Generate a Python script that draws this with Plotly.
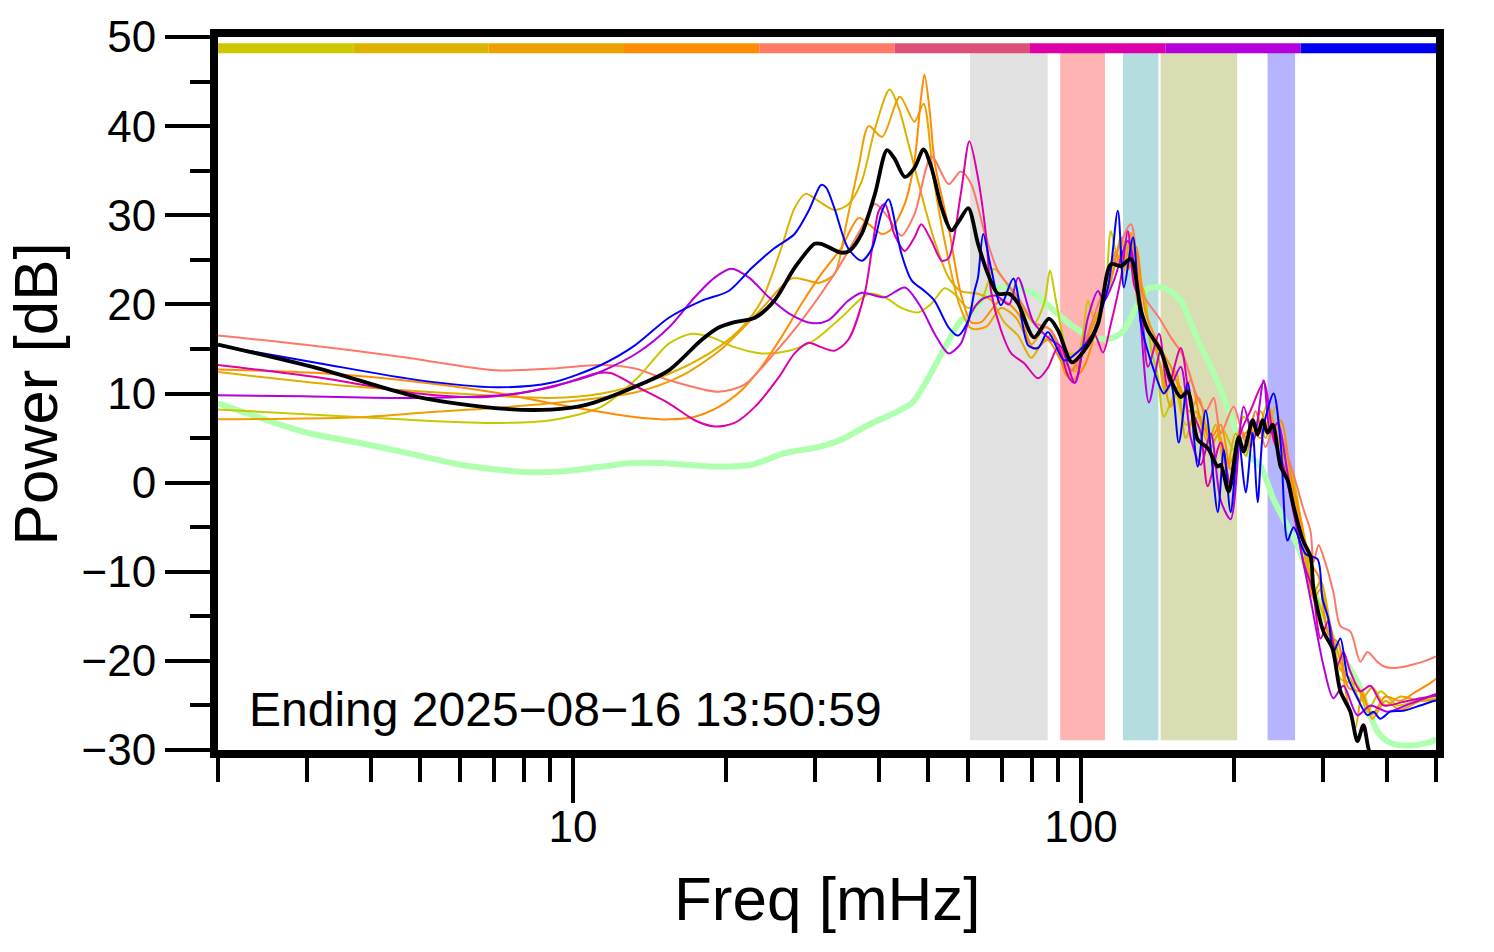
import numpy as np
import plotly.graph_objects as go

# ---------------- data ----------------
freq_yellow = [2.0, 3.67, 6.71, 9.05, 11.35, 13.42, 15.44, 17.13, 18.76, 20.8, 23.5, 26.6, 29.9, 33.7, 38.2, 41.1, 44.3, 47.8, 50.8, 53.9, 56.3, 60.0, 63.6, 67.4, 70.6, 75.2, 80.8, 84.6, 86.9, 89.3, 94.6, 99.1, 103.2, 106.1, 111.0, 114.5, 118.2, 121.5, 127.1, 133.0, 137.4, 141.7, 145.6, 153.7, 160.8, 172.1, 182.5, 190.1, 199.8, 209.1, 222.7, 233.0, 243.8, 258.6, 270.6, 283.2, 296.3, 309.8, 324.1, 350.2, 366.4, 388.5, 419.5, 451.0, 500]
pow_yellow = [8.2, 7.4, 6.7, 7.0, 8.5, 11.8, 15.6, 16.7, 16.3, 15.2, 14.5, 14.8, 16.0, 18.5, 21.2, 20.8, 19.6, 19.1, 20.1, 21.8, 21.2, 19.6, 20.4, 24.0, 22.7, 20.4, 17.9, 20.1, 23.8, 20.4, 14.5, 14.8, 20.4, 18.5, 20.4, 28.2, 25.2, 27.1, 23.4, 21.5, 15.0, 12.0, 7.4, 10.0, 6.5, 7.4, 4.8, 6.0, 3.7, 7.4, 5.9, 8.9, 4.8, 1.8, -4.0, -11.0, -14.0, -17.5, -22.0, -22.8, -25.7, -23.4, -25.0, -24.6, -23.9]

freq_gold = [2.0, 3.67, 6.71, 9.05, 11.4, 14.3, 16.6, 19.35, 21.5, 23.5, 25.7, 27.3, 28.7, 30.4, 32.7, 34.8, 37.0, 39.3, 42.0, 43.8, 45.8, 48.5, 51.5, 54.9, 58.0, 62.7, 66.5, 70.6, 75.2, 79.8, 83.4, 87.3, 91.5, 97.3, 102.3, 108.0, 114.5, 119.9, 123.7, 128.3, 133.0, 140.4, 146.9, 153.7, 160.8, 168.3, 177.6, 184.2, 192.7, 201.6, 211.0, 220.7, 230.9, 241.6, 252.8, 264.6, 276.8, 287.0, 296.3, 309.8, 324.1, 339.1, 354.9, 374.7, 397.4, 425.2, 465.4, 500]
pow_gold = [12.4, 10.8, 9.8, 9.5, 10.0, 11.5, 13.0, 15.2, 17.4, 20.4, 26.3, 30.8, 32.4, 31.6, 30.6, 31.2, 33.8, 39.7, 44.1, 42.0, 37.9, 32.4, 27.1, 23.0, 21.5, 21.2, 20.5, 18.0, 16.5, 14.0, 15.5, 16.5, 14.0, 12.5, 16.0, 19.0, 22.5, 27.5, 24.0, 26.0, 18.0, 15.5, 10.0, 12.5, 5.0, 8.0, 4.5, 6.5, 1.0, 5.5, 3.0, 8.0, 5.0, 8.5, 2.0, -3.5, -7.0, -12.5, -11.0, -16.0, -21.0, -22.0, -24.5, -23.0, -25.0, -24.0, -24.5, -24.2]

freq_orange = [2.0, 3.67, 4.96, 9.05, 13.42, 16.37, 19.6, 23.5, 26.9, 28.85, 30.4, 32.7, 34.5, 36.5, 38.2, 40.6, 44.0, 47.0, 49.0, 51.3, 54.4, 57.6, 60.8, 65.1, 69.6, 74.5, 79.8, 85.3, 89.3, 93.7, 99.1, 104.6, 112.0, 117.2, 121.0, 125.4, 129.5, 137.4, 143.6, 150.3, 155.8, 163.0, 170.6, 180.1, 186.7, 195.3, 204.4, 215.8, 225.8, 236.2, 247.2, 258.6, 270.6, 280.6, 287.0, 296.3, 309.8, 324.1, 336.1, 346.9, 358.2, 374.7, 397.4, 425.2, 465.4, 500]
pow_orange = [7.1, 7.3, 7.8, 8.9, 10.2, 12.0, 15.0, 19.5, 22.9, 22.7, 22.4, 23.4, 29.0, 35.5, 40.0, 38.8, 43.3, 40.5, 42.5, 34.0, 26.0, 20.0, 17.3, 17.5, 19.6, 18.5, 15.5, 17.5, 16.0, 12.0, 14.0, 17.0, 21.0, 26.0, 23.5, 28.0, 20.0, 16.5, 13.0, 8.5, 11.0, 8.0, 9.5, 4.0, 5.5, 2.0, 4.5, 6.0, 5.0, 7.5, 4.0, 0.0, -5.0, -11.0, -13.0, -12.0, -16.5, -20.0, -25.0, -27.5, -23.5, -26.5, -24.5, -25.5, -24.5, -24.5]

freq_darkorange = [2.0, 3.16, 4.96, 7.22, 9.05, 13.42, 15.44, 17.36, 19.35, 21.5, 23.5, 25.7, 28.2, 30.8, 33.7, 36.5, 38.2, 40.6, 42.4, 45.0, 47.0, 48.5, 49.2, 50.4, 51.5, 54.9, 58.0, 60.8, 63.6, 69.6, 75.2, 80.8, 86.1, 90.6, 96.0, 101.4, 108.0, 114.5, 119.9, 124.3, 128.3, 134.2, 143.6, 150.3, 158.7, 164.5, 172.1, 180.1, 188.4, 197.1, 206.2, 215.8, 225.8, 236.2, 247.2, 258.6, 270.6, 283.2, 293.6, 307.0, 321.2, 336.1, 354.9, 374.7, 397.4, 425.2, 455.1, 487.0, 500]
pow_darkorange = [12.7, 12.3, 11.3, 10.0, 8.9, 7.3, 7.1, 7.4, 8.5, 10.4, 13.0, 16.3, 20.1, 23.4, 26.3, 29.7, 29.0, 27.9, 28.5, 31.3, 36.0, 43.5, 45.8, 41.6, 36.0, 28.6, 21.2, 18.0, 18.0, 20.5, 19.0, 15.0, 16.0, 14.0, 11.5, 13.0, 18.0, 23.0, 25.5, 24.0, 26.5, 19.0, 15.0, 13.0, 10.0, 11.5, 7.0, 5.0, 6.5, 1.5, 6.0, 4.0, 8.0, 5.5, 7.0, 1.0, -4.0, -9.0, -10.5, -17.0, -18.0, -23.0, -23.5, -26.0, -24.0, -24.5, -23.5, -22.5, -22.0]

freq_salmon = [2.0, 2.94, 4.61, 7.03, 9.09, 11.35, 13.24, 15.44, 19.35, 21.76, 24.9, 28.2, 32.7, 37.0, 39.3, 41.8, 44.3, 47.0, 50.8, 54.9, 58.0, 60.8, 64.5, 68.6, 75.2, 80.8, 87.3, 96.0, 101.4, 113.0, 125.4, 131.2, 142.5, 150.3, 159.4, 168.3, 176.0, 182.5, 188.4, 199.8, 211.0, 220.7, 230.9, 241.6, 258.6, 274.3, 283.2, 287.0, 293.6, 300.1, 314.0, 324.1, 339.1, 354.9, 366.4, 383.3, 393.9, 415.7, 444.9, 476.1, 500]
pow_salmon = [16.5, 15.5, 14.1, 12.6, 12.8, 13.2, 12.8, 11.5, 10.2, 11.0, 14.5, 18.2, 23.4, 28.6, 31.3, 29.7, 27.7, 30.1, 36.6, 33.5, 34.9, 33.5, 28.2, 23.8, 20.8, 18.0, 17.1, 12.6, 15.6, 23.0, 29.0, 21.5, 18.5, 16.3, 14.1, 10.0, 8.0, 9.5, 5.5, 8.5, 4.5, 8.0, 4.0, 6.5, 2.0, -3.0, -5.5, -8.9, -7.0, -8.3, -12.3, -16.1, -16.7, -20.1, -19.0, -20.1, -20.6, -20.8, -20.5, -20.0, -19.5]

freq_magenta = [2.0, 3.16, 4.96, 6.71, 9.05, 11.2, 11.87, 13.42, 15.44, 17.36, 19.0, 20.8, 22.8, 25.4, 27.3, 29.1, 30.8, 32.7, 34.8, 37.5, 38.8, 40.0, 41.1, 42.9, 45.0, 47.0, 48.5, 50.8, 53.2, 54.9, 58.0, 60.3, 62.7, 65.1, 66.5, 69.6, 72.9, 77.3, 82.3, 86.1, 90.1, 94.6, 97.3, 101.4, 106.1, 110.5, 114.5, 119.9, 123.7, 127.1, 131.2, 135.5, 142.5, 148.2, 157.2, 164.5, 172.1, 177.6, 188.4, 197.1, 206.2, 215.8, 228.9, 239.5, 250.6, 267.0, 274.3, 285.7, 296.3, 307.0, 319.8, 328.6, 339.1, 354.9, 371.4, 393.9, 431.0, 465.4, 500]
pow_magenta = [13.2, 11.8, 10.0, 9.6, 10.7, 12.3, 12.3, 10.7, 8.9, 7.0, 6.3, 6.7, 8.5, 11.8, 14.5, 15.7, 15.2, 14.8, 16.0, 21.2, 26.3, 30.5, 31.3, 27.9, 26.0, 27.5, 29.0, 27.1, 24.9, 25.2, 32.4, 38.3, 34.2, 27.5, 21.5, 17.1, 14.5, 13.4, 11.7, 12.9, 15.2, 11.8, 11.2, 15.2, 16.7, 14.6, 17.8, 23.0, 28.2, 22.3, 20.0, 13.0, 16.7, 10.7, 15.1, 8.5, 5.6, -0.4, 4.5, -0.4, 5.6, 8.1, 11.2, 4.8, 1.8, -5.6, -9.0, -12.0, -17.5, -15.5, -20.5, -19.0, -21.2, -23.4, -22.8, -25.0, -24.6, -24.2, -23.9]

freq_purple = [2.0, 2.94, 4.96, 7.79, 10.56, 11.4, 13.42, 15.44, 17.36, 19.0, 20.5, 22.2, 24.3, 26.6, 29.5, 31.8, 34.8, 37.0, 41.1, 45.0, 48.5, 51.5, 54.9, 58.0, 60.8, 63.6, 68.0, 72.2, 75.2, 80.8, 87.3, 91.5, 97.3, 103.2, 108.0, 111.0, 116.1, 123.7, 129.4, 136.1, 143.6, 150.3, 157.2, 164.5, 172.1, 180.1, 188.4, 197.1, 209.1, 218.8, 228.9, 236.2, 243.8, 255.1, 267.0, 283.2, 300.1, 314.0, 328.6, 350.2, 371.4, 401.0, 444.9, 500]
pow_purple = [9.8, 9.7, 9.5, 10.0, 11.8, 12.5, 14.6, 17.4, 20.8, 23.0, 24.0, 23.0, 20.8, 19.0, 17.9, 18.2, 20.4, 21.3, 20.8, 21.9, 19.6, 16.7, 14.5, 15.6, 19.0, 20.5, 21.0, 20.0, 23.0, 17.9, 16.0, 15.2, 11.2, 18.5, 21.5, 20.4, 22.7, 27.1, 21.5, 9.0, 14.8, 11.0, 13.0, 5.0, 2.0, 5.5, -2.0, -4.1, 8.5, 4.8, 11.5, 5.6, 6.7, 1.1, -5.6, -13.1, -20.5, -24.2, -22.8, -26.1, -25.0, -25.7, -24.8, -23.7]

freq_blue = [2.0, 3.16, 4.96, 7.03, 9.05, 11.35, 13.24, 15.44, 17.9, 20.25, 22.5, 24.9, 27.3, 29.1, 30.8, 31.5, 32.7, 34.8, 37.0, 38.8, 40.6, 41.8, 44.3, 46.4, 49.2, 51.5, 54.9, 57.3, 60.0, 61.7, 62.7, 64.2, 66.5, 69.6, 73.6, 78.7, 82.3, 86.1, 92.8, 99.1, 104.6, 113.0, 118.2, 121.5, 126.6, 131.2, 139.2, 145.6, 150.3, 155.8, 162.3, 169.8, 176.0, 185.9, 191.0, 197.1, 204.4, 211.0, 217.8, 222.7, 228.9, 239.5, 247.2, 255.1, 262.2, 276.8, 292.3, 298.8, 307.0, 314.0, 324.1, 334.6, 350.2, 366.4, 376.5, 388.5, 406.4, 431.0, 465.4, 500]
pow_blue = [15.4, 13.4, 11.5, 10.7, 11.2, 13.2, 15.4, 18.5, 20.4, 21.5, 24.1, 26.3, 27.9, 30.5, 33.4, 33.1, 30.8, 26.3, 24.9, 26.3, 30.5, 31.8, 25.7, 22.7, 21.5, 20.4, 17.4, 16.5, 18.2, 21.5, 23.0, 27.9, 24.1, 19.9, 22.9, 15.4, 15.1, 16.9, 13.7, 14.8, 16.3, 21.9, 30.5, 21.9, 27.5, 17.9, 12.6, 10.0, 11.0, 4.5, 11.2, 1.8, 8.1, -3.3, 3.7, -3.3, 4.8, -1.1, 5.6, -2.2, 6.3, 10.0, 4.5, -6.5, -5.0, -8.0, -8.6, -13.0, -15.3, -19.0, -17.5, -21.7, -24.2, -26.1, -25.7, -26.5, -25.7, -25.6, -25.0, -24.4]

freq_mean = [2.0, 3.16, 4.96, 7.22, 9.05, 10.56, 13.42, 15.44, 17.9, 19.35, 20.8, 22.8, 24.9, 27.3, 29.9, 30.8, 33.7, 35.0, 37.0, 39.3, 41.5, 42.9, 45.0, 47.0, 49.0, 50.8, 53.2, 55.6, 57.6, 60.0, 62.7, 65.6, 68.6, 72.2, 75.2, 80.8, 86.5, 90.1, 96.0, 101.4, 108.0, 114.5, 119.9, 125.4, 131.2, 135.5, 143.6, 150.3, 157.2, 162.3, 169.8, 177.6, 185.9, 188.4, 195.3, 204.4, 209.1, 217.8, 222.7, 227.8, 233.0, 238.4, 247.2, 255.1, 262.2, 273.1, 283.2, 287.0, 300.1, 312.6, 324.1, 339.1, 350.2, 359.8, 368.0, 376.5]
pow_mean = [15.5, 12.8, 9.6, 8.3, 8.2, 8.7, 10.9, 12.6, 16.0, 17.4, 18.0, 18.5, 20.4, 24.1, 26.8, 26.8, 25.8, 26.0, 27.9, 32.4, 37.3, 36.4, 34.3, 35.3, 37.4, 35.3, 30.8, 28.3, 29.4, 30.8, 26.8, 23.4, 21.2, 21.2, 20.1, 16.3, 18.4, 17.1, 13.5, 14.8, 17.8, 24.5, 24.3, 25.1, 19.3, 17.1, 14.8, 11.5, 9.6, 10.2, 4.8, 3.9, 1.8, 2.0, -1.0, 5.1, 3.5, 7.0, 5.4, 7.0, 5.6, 6.5, 1.8, 0.3, -2.7, -6.4, -8.3, -11.9, -16.7, -18.6, -23.4, -25.7, -29.0, -27.2, -29.8, -31.5]

freq_ref = [2.0, 2.5, 3.0, 4.0, 5.0, 6.0, 7.0, 8.0, 9.0, 10, 11.4, 13.0, 15.0, 16.6, 19.0, 20.25, 22.5, 26.1, 30.4, 33.7, 38.2, 41.8, 46.4, 48.5, 53.2, 58.0, 60.8, 64.5, 69.6, 75.2, 80.8, 87.3, 94.6, 104.6, 114.5, 121.5, 129.5, 135.5, 146.6, 157.2, 169.8, 180.1, 191.0, 197.1, 209.1, 225.8, 239.5, 255.1, 267.0, 292.3, 319.8, 350.2, 383.3, 406.4, 444.9, 493.6, 500]
pow_ref = [8.9, 7.0, 5.6, 4.2, 3.0, 2.0, 1.5, 1.2, 1.2, 1.4, 1.8, 2.2, 2.2, 2.0, 1.8, 1.8, 2.0, 3.3, 4.0, 4.8, 6.5, 7.5, 8.9, 10.4, 14.5, 18.2, 19.0, 20.8, 21.9, 21.8, 21.2, 19.6, 17.9, 16.3, 16.2, 17.1, 20.1, 21.8, 21.8, 20.4, 16.0, 13.0, 9.6, 7.4, 3.7, 1.8, -1.9, -4.9, -7.1, -13.1, -18.6, -22.3, -27.9, -29.2, -29.5, -29.0, -28.7]

# shaded frequency bands [mHz]
band_lo = [60.5, 91.0, 121.0, 143.5, 233.0]
band_hi = [86.0, 111.5, 142.0, 203.0, 264.0]
band_colors = ["#E1E1E1", "#FFB4B4", "#B5DCDE", "#DADCB4", "#B4B4FF"]

# top colour bar segments
bar_colors = ["#CCC800", "#DDB300", "#EEA000", "#FF8C00", "#FF7966", "#DD5077", "#DD00AA", "#B400DD", "#0000F0"]

x_major = [10, 100]
x_minor = [2, 3, 4, 5, 6, 7, 8, 9, 20, 30, 40, 50, 60, 70, 80, 90, 200, 300, 400, 500]
y_major = [-30, -20, -10, 0, 10, 20, 30, 40, 50]

# ---------------- figure ----------------
fig = go.Figure()

fig.add_trace(go.Scatter(x=freq_ref, y=pow_ref, mode="lines",
                         line=dict(color="#AEFFAE", width=6, shape="spline", smoothing=0.8),
                         hoverinfo="skip"))

series = [
    (freq_yellow, pow_yellow, "#C8C800"),
    (freq_gold, pow_gold, "#DDB000"),
    (freq_orange, pow_orange, "#EEA000"),
    (freq_darkorange, pow_darkorange, "#FF8C00"),
    (freq_salmon, pow_salmon, "#FF7766"),
    (freq_magenta, pow_magenta, "#DD00AA"),
    (freq_purple, pow_purple, "#B400DD"),
    (freq_blue, pow_blue, "#0000FF"),
]
for fx, py, col in series:
    fig.add_trace(go.Scatter(x=fx, y=py, mode="lines",
                             line=dict(color=col, width=2, shape="spline", smoothing=0.8),
                             hoverinfo="skip"))

fig.add_trace(go.Scatter(x=freq_mean, y=pow_mean, mode="lines",
                         line=dict(color="black", width=3.8, shape="spline", smoothing=0.8),
                         hoverinfo="skip"))

shapes = []
for lo, hi, col in zip(band_lo, band_hi, band_colors):
    shapes.append(dict(type="rect", xref="x", yref="y",
                       x0=lo, x1=hi, y0=-28.9, y1=48.3,
                       fillcolor=col, line=dict(width=0), layer="below"))
nseg = len(bar_colors)
for i, col in enumerate(bar_colors):
    shapes.append(dict(type="rect", xref="paper", yref="y",
                       x0=i / nseg, x1=(i + 1) / nseg, y0=48.17, y1=49.29,
                       fillcolor=col, line=dict(width=0), layer="above"))

fig.update_layout(
    width=1494, height=952,
    margin=dict(l=218, r=58, t=37, b=202),
    plot_bgcolor="white", paper_bgcolor="white",
    showlegend=False,
    font=dict(family="Liberation Sans, Arial, sans-serif", color="black"),
    shapes=shapes,
    annotations=[
        dict(text="Power [dB]", xref="paper", yref="paper", x=-0.1495, y=0.5,
             textangle=-90, showarrow=False, xanchor="center", yanchor="middle",
             font=dict(size=62, color="black")),
        dict(text="Freq [mHz]", xref="paper", yref="paper", x=0.5, y=-0.2076,
             showarrow=False, xanchor="center", yanchor="middle",
             font=dict(size=62, color="black")),
        dict(text="Ending 2025\u221208\u221216 13:50:59", xref="paper", yref="y",
             x=0.0238, y=-25.5, showarrow=False, xanchor="left", yanchor="middle",
             font=dict(size=48, color="black")),
    ],
)

fig.update_xaxes(
    type="log", range=[np.log10(2), np.log10(500)],
    showgrid=False, zeroline=False,
    showline=True, linewidth=8, linecolor="black", mirror=True,
    ticks="outside", ticklen=45, tickwidth=3.5, tickcolor="black",
    tickmode="array", tickvals=x_major, ticktext=[str(v) for v in x_major],
    tickfont=dict(size=44, color="black"),
    ticklabelstandoff=-14,
    minor=dict(ticks="outside", ticklen=24, tickwidth=3.5, tickcolor="black",
               tickmode="array", tickvals=x_minor, showgrid=False),
)
fig.update_yaxes(
    range=[-30, 50],
    showgrid=False, zeroline=False,
    showline=True, linewidth=8, linecolor="black", mirror=True,
    ticks="outside", ticklen=45, tickwidth=3.5, tickcolor="black",
    tickmode="array", tickvals=y_major,
    tickfont=dict(size=44, color="black"),
    minor=dict(ticks="outside", ticklen=20, tickwidth=3.5, tickcolor="black",
               dtick=5, tick0=0, showgrid=False),
)

fig.write_html("out.html", config={"displayModeBar": False},
               post_script="document.body.style.margin='0px';")
